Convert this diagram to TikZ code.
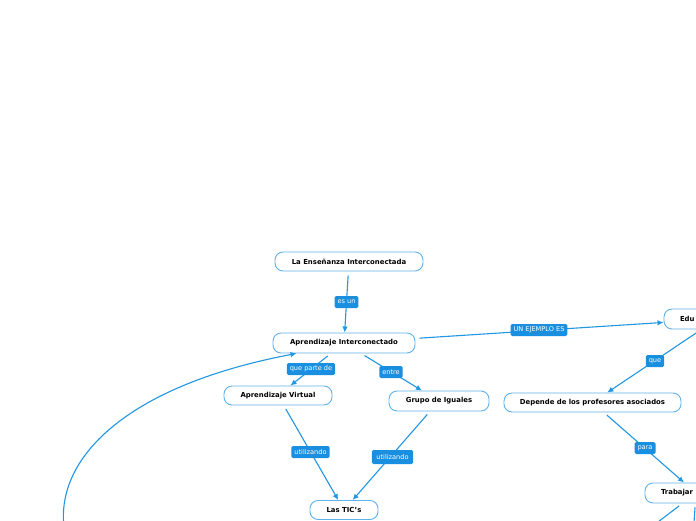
\documentclass[tikz,border=0pt]{standalone}
\usepackage{fontspec}
\setmainfont{DejaVu Sans}
\usetikzlibrary{arrows.meta}
\definecolor{lineblue}{RGB}{33,150,226}
\definecolor{boxline}{RGB}{95,178,235}
\definecolor{labblue}{RGB}{26,143,224}
\begin{document}
\begin{tikzpicture}[x=1pt,y=-1pt,
  box/.style={draw=boxline, line width=0.9pt, fill=white, rounded corners=8pt,
    minimum height=20pt, inner xsep=4pt, inner ysep=0pt,
    font=\fontsize{6.9}{8}\selectfont\bfseries, text=black},
  lab/.style={fill=labblue, text=white, rounded corners=1.5pt, inner xsep=3pt,
    inner ysep=0pt, minimum height=12pt, font=\fontsize{6.6}{8}\selectfont},
  conn/.style={draw=lineblue, line width=1.1pt, -{Latex[length=6pt,width=5.5pt]},
    shorten <=4pt}]
\useasboundingbox (0,0) rectangle (696,520);
\fill[white] (0,0) rectangle (696,520);
\clip (0,0) rectangle (696,520);

% nodes
\node[box, minimum width=148pt, minimum height=19pt] (n1) at (349,261.5) {La Enseñanza Interconectada};
\node[box, minimum width=142pt] (n2) at (344,343) {Aprendizaje Interconectado};
\node[box, minimum width=108pt, minimum height=19pt] (n3) at (278,395.5) {Aprendizaje Virtual};
\node[box, minimum width=100pt] (n4) at (439,401) {Grupo de Iguales};
\node[box, minimum width=68pt, minimum height=19pt] (n5) at (344,510) {Las TIC's};
\node[box, minimum width=106pt, text width=74pt, inner xsep=16pt, align=left] (edu) at (717,319) {Edu};
\node[box, minimum width=177pt, minimum height=19pt] (n7) at (592.5,402.5) {Depende de los profesores asociados};
\node[box, minimum width=102pt, text width=70pt, inner xsep=16pt, align=left] (trab) at (696,493) {Trabajar};

\coordinate (c0) at (64,528);
\coordinate (o1) at (612,557);
\coordinate (o2) at (692,552);

% connectors
\draw[conn] (n1) -- (n2);
\draw[conn] (n2) -- (n3);
\draw[conn] (n2) -- (n4);
\draw[conn] (n3) -- (n5);
\draw[conn] (n4) -- (n5);
\draw[conn] (n2) -- (edu);
\draw[conn] (edu) -- (n7);
\draw[conn] (n7) -- (trab);
\draw[conn] (trab) -- (o1);
\draw[conn] (trab) -- (o2);
\draw[conn] (c0) .. controls (58,455) and (130,385) .. ([xshift=24pt]n2.south west);

% labels
\node[lab] (l1) at (346.5,302) {es un};
\node[lab] (l2) at (311,369) {que parte de};
\node[lab] (l3) at (391,372) {entre};
\node[lab] (l4) at (310.5,452) {utilizando};
\node[lab, minimum height=14pt, inner xsep=4.5pt] (l5) at (392.5,457) {utilizando};
\node[lab] (l6) at (539,330) {UN EJEMPLO ES};
\node[lab] (l7) at (655,361) {que};
\node[lab] (l8) at (645,448) {para};
\end{tikzpicture}
\end{document}
